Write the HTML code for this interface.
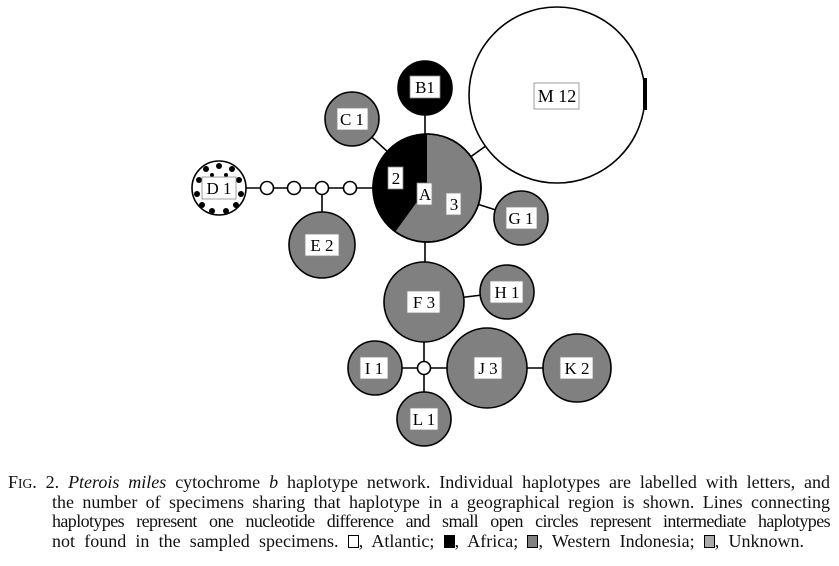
<!DOCTYPE html>
<html><head><meta charset="utf-8"><style>
body{margin:0;width:839px;height:566px;background:#fff;overflow:hidden;position:relative;font-family:"Liberation Serif",serif}
svg{position:absolute;left:0;top:0}
.cap{position:absolute;font-size:18px;line-height:19.5px;white-space:nowrap;text-align:justify;text-align-last:justify;color:#111}
.sq{display:inline-block;width:11px;height:13px;border:1.5px solid #000;vertical-align:-1px;box-sizing:border-box}
</style></head><body>
<svg width="839" height="566" viewBox="0 0 839 566" font-family="Liberation Serif, serif" font-size="17">
<g stroke="#000" stroke-width="1.6">
<line x1="425" y1="88" x2="425" y2="188"/>
<line x1="352" y1="119" x2="427" y2="188"/>
<line x1="219" y1="188" x2="427" y2="188"/>
<line x1="322" y1="188" x2="322" y2="245"/>
<line x1="427" y1="188" x2="521" y2="218"/>
<line x1="427" y1="188" x2="557" y2="95"/>
<line x1="425" y1="188" x2="425" y2="302"/>
<line x1="424" y1="302" x2="507" y2="292"/>
<line x1="424" y1="302" x2="424" y2="419"/>
<line x1="375" y1="368" x2="577" y2="368"/>
</g>
<g stroke="#000" stroke-width="1.6">
<circle cx="557" cy="95" r="88" fill="#fff"/>
<circle cx="425" cy="88" r="27" fill="#000"/>
<circle cx="352" cy="119" r="27" fill="#808080"/>
<circle cx="219" cy="188" r="27" fill="#fff"/>
<circle cx="322" cy="245" r="33" fill="#808080"/>
<circle cx="521" cy="218" r="27" fill="#808080"/>
<circle cx="427" cy="188" r="54" fill="#808080"/>
<path d="M427 188 L427 134 A54 54 0 0 0 395.3 231.7 Z" fill="#000" stroke="none"/>
<circle cx="427" cy="188" r="54" fill="none"/>
<circle cx="424" cy="302" r="40" fill="#808080"/>
<circle cx="507" cy="292" r="27" fill="#808080"/>
<circle cx="375" cy="368" r="27" fill="#808080"/>
<circle cx="487" cy="368" r="40" fill="#808080"/>
<circle cx="577" cy="368" r="34" fill="#808080"/>
<circle cx="424" cy="419" r="27" fill="#808080"/>
<circle cx="267" cy="188" r="6.5" fill="#fff"/>
<circle cx="294" cy="188" r="6.5" fill="#fff"/>
<circle cx="322" cy="188" r="6.5" fill="#fff"/>
<circle cx="350" cy="188" r="6.5" fill="#fff"/>
<circle cx="424" cy="368" r="6.5" fill="#fff"/>
</g>
<rect x="643" y="78" width="4" height="32" fill="#000"/>
<g fill="#000">
<circle cx="206" cy="169" r="3"/><circle cx="219" cy="166" r="3"/><circle cx="232" cy="169" r="3"/>
<circle cx="199" cy="180" r="3"/><circle cx="239" cy="180" r="3"/>
<circle cx="197" cy="194" r="3"/><circle cx="241" cy="194" r="3"/>
<circle cx="202" cy="205" r="3"/><circle cx="236" cy="205" r="3"/>
<circle cx="212" cy="211" r="3"/><circle cx="226" cy="211" r="3"/>
<circle cx="212" cy="175" r="2"/><circle cx="226" cy="175" r="2"/>
</g>
<g fill="#fff" stroke="#888" stroke-width="0.8">
<rect x="410" y="76" width="30" height="22"/>
<rect x="337" y="108" width="31" height="22"/>
<rect x="202" y="177" width="34" height="22"/>
<rect x="305" y="234" width="34" height="22"/>
<rect x="388" y="167" width="15" height="22"/>
<rect x="417" y="183" width="15" height="22"/>
<rect x="446" y="193" width="15" height="22"/>
<rect x="506" y="207" width="31" height="22"/>
<rect x="534" y="83" width="45" height="26"/>
<rect x="407" y="291" width="33" height="22"/>
<rect x="490" y="281" width="33" height="22"/>
<rect x="360" y="357" width="28" height="22"/>
<rect x="474" y="357" width="28" height="22"/>
<rect x="560" y="357" width="33" height="22"/>
<rect x="410" y="408" width="28" height="22"/>
</g>
<g text-anchor="middle" fill="#000">
<text x="425" y="93">B1</text>
<text x="352" y="125">C 1</text>
<text x="219" y="194">D 1</text>
<text x="322" y="251">E 2</text>
<text x="396" y="184">2</text>
<text x="425" y="200">A</text>
<text x="454" y="210">3</text>
<text x="521" y="224">G 1</text>
<text x="557" y="102" font-size="18">M 12</text>
<text x="424" y="308">F 3</text>
<text x="507" y="298">H 1</text>
<text x="374" y="374">I 1</text>
<text x="488" y="374">J 3</text>
<text x="577" y="374">K 2</text>
<text x="424" y="425">L 1</text>
</g>
</svg>
<div class="cap" style="left:8px;top:473px;width:822px">F<span style="font-size:13.5px">IG</span>. 2. <i>Pterois miles</i> cytochrome <i>b</i> haplotype network. Individual haplotypes are labelled with letters, and</div>
<div class="cap" style="left:52px;top:493px;width:778px">the number of specimens sharing that haplotype in a geographical region is shown. Lines connecting</div>
<div class="cap" style="left:52px;top:512px;width:778px;letter-spacing:-0.6px">haplotypes represent one nucleotide difference and small open circles represent intermediate haplotypes</div>
<div class="cap" style="left:52px;top:532px;width:752px">not found in the sampled specimens. <span class="sq"></span>, Atlantic; <span class="sq" style="background:#000"></span>, Africa; <span class="sq" style="background:#808080"></span>, Western Indonesia; <span class="sq" style="background:#aaa"></span>, Unknown.</div>
</body></html>
